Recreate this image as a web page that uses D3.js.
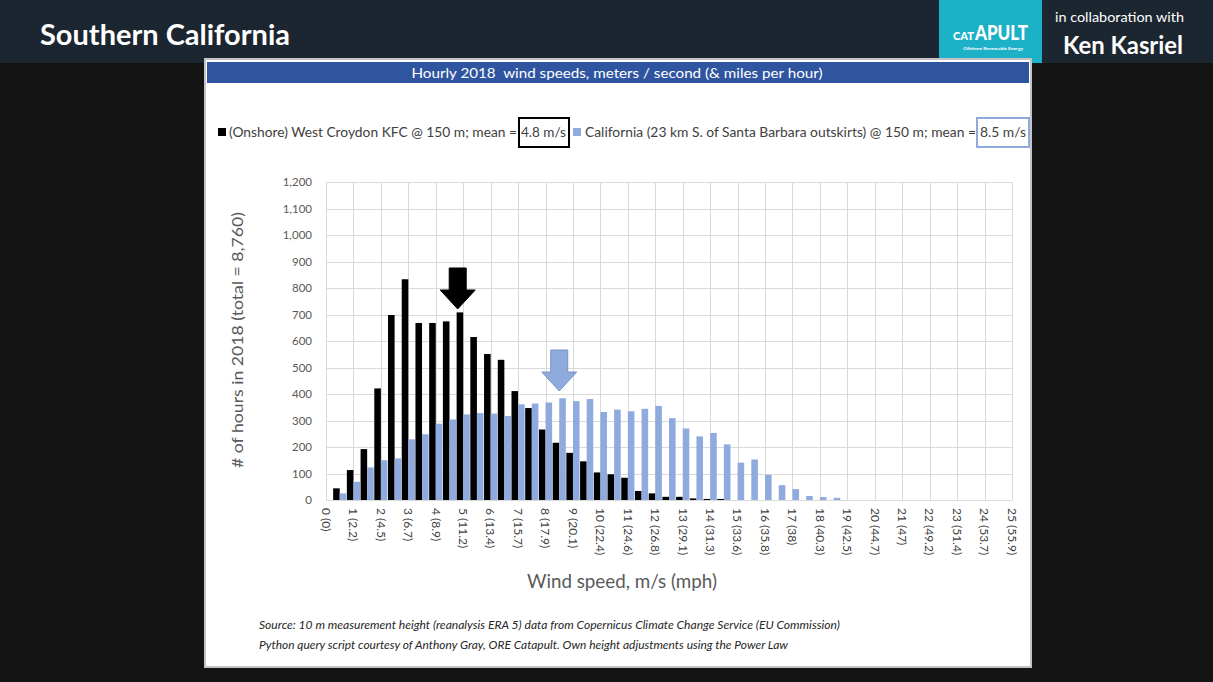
<!DOCTYPE html>
<html>
<head>
<meta charset="utf-8">
<script src="https://cdn.jsdelivr.net/npm/d3@7"></script>
<style>
  html, body { margin: 0; padding: 0; background: #141414; }
  svg { display: block; }
  text { font-family: Lato, "Open Sans", "DejaVu Sans", sans-serif; }
</style>
</head>
<body>
<svg id="chart" width="1213" height="682"></svg>
<script>
// Wind-speed bins (m/s), half-metre steps
const categories = [0, 0.5, 1, 1.5, 2, 2.5, 3, 3.5, 4, 4.5, 5, 5.5, 6, 6.5, 7, 7.5, 8, 8.5, 9, 9.5,
  10, 10.5, 11, 11.5, 12, 12.5, 13, 13.5, 14, 14.5, 15, 15.5, 16, 16.5, 17, 17.5, 18, 18.5, 19, 19.5,
  20, 20.5, 21, 21.5, 22, 22.5, 23, 23.5, 24, 24.5, 25];

// Hours per bin, onshore site (West Croydon)
const onshoreHours = [0, 44, 113, 192, 421, 698, 833, 668, 668, 674, 708, 615, 551, 529, 411, 347,
  266, 216, 178, 146, 104, 97, 84, 34, 25, 12, 12, 6, 4, 4,
  0, 0, 0, 0, 0, 0, 0, 0, 0, 0, 0, 0, 0, 0, 0, 0, 0, 0, 0, 0, 0];

// Hours per bin, California site
const californiaHours = [0, 25, 69, 123, 150, 157, 229, 248, 288, 304, 323, 328, 326, 317, 361, 364,
  368, 384, 373, 381, 332, 341, 335, 344, 355, 309, 270, 240, 253, 210, 141, 153, 95, 56, 41, 15, 11, 8,
  0, 0, 0, 0, 0, 0, 0, 0, 0, 0, 0, 0, 0];

const seriesNames = ["(Onshore) West Croydon KFC @ 150 m",
  "California (23 km S. of Santa Barbara outskirts) @ 150 m"];
const seriesMeans = [4.8, 8.5];
const seriesColors = ["#000000", "#8faadc"];

// Labelled ticks: whole m/s with mph equivalent
const xTickLabels = ["0 (0)", "1 (2.2)", "2 (4.5)", "3 (6.7)", "4 (8.9)", "5 (11.2)", "6 (13.4)",
  "7 (15.7)", "8 (17.9)", "9 (20.1)", "10 (22.4)", "11 (24.6)", "12 (26.8)", "13 (29.1)", "14 (31.3)",
  "15 (33.6)", "16 (35.8)", "17 (38)", "18 (40.3)", "19 (42.5)", "20 (44.7)", "21 (47)", "22 (49.2)",
  "23 (51.4)", "24 (53.7)", "25 (55.9)"];
const yTicks = [0, 100, 200, 300, 400, 500, 600, 700, 800, 900, 1000, 1100, 1200];

const svg = d3.select("#chart");
const W = 1213, H = 682;

// ---- slide background & header ----
svg.append("rect").attr("width", W).attr("height", H).attr("fill", "#141414");
svg.append("rect").attr("width", W).attr("height", 63).attr("fill", "#1c2630");

function fit(sel, w) {
  return sel.attr("textLength", w).attr("lengthAdjust", "spacingAndGlyphs");
}

fit(svg.append("text").attr("x", 40).attr("y", 45)
  .attr("fill", "#ffffff").attr("font-size", 28).attr("font-weight", 700)
  .text("Southern California"), 250);

// logo block
svg.append("rect").attr("x", 939).attr("y", 0).attr("width", 103).attr("height", 63).attr("fill", "#1cb1c6");
fit(svg.append("text").attr("x", 953).attr("y", 40).attr("fill", "#ffffff")
  .attr("font-size", 12).attr("font-weight", 900).text("CAT"), 21);
fit(svg.append("text").attr("x", 975).attr("y", 40).attr("fill", "#ffffff")
  .attr("font-size", 20).attr("font-weight", 900).text("APULT"), 53);
fit(svg.append("text").attr("x", 963).attr("y", 50).attr("fill", "#ffffff")
  .attr("font-size", 4.5).attr("font-weight", 700).text("Offshore Renewable Energy"), 60);

fit(svg.append("text").attr("x", 1055).attr("y", 22).attr("fill", "#ffffff")
  .attr("font-size", 14).text("in collaboration with"), 129);
fit(svg.append("text").attr("x", 1063).attr("y", 54).attr("fill", "#ffffff")
  .attr("font-size", 24).attr("font-weight", 700).text("Ken Kasriel"), 120);

// ---- chart panel ----
svg.append("rect").attr("x", 205).attr("y", 59).attr("width", 826).attr("height", 608)
  .attr("fill", "#ffffff").attr("stroke", "#c4c4c4").attr("stroke-width", 2);
svg.append("rect").attr("x", 207).attr("y", 62).attr("width", 822).attr("height", 21)
  .attr("fill", "#2f55a1");
fit(svg.append("text").attr("x", 617).attr("y", 78).attr("text-anchor", "middle")
  .attr("fill", "#ffffff").attr("font-size", 14).style("white-space", "pre")
  .text("Hourly 2018  wind speeds, meters / second (& miles per hour)"), 411);

// ---- legend ----
const legendLayout = [
  { sq: 218, tx: 229, tw: 288, bx: 519, bw: 50, vx: 521, vw: 45 },
  { sq: 573, tx: 585, tw: 391, bx: 977, bw: 52, vx: 980, vw: 46 }
];
const legendBase = 137;
seriesNames.forEach((name, i) => {
  const L = legendLayout[i];
  svg.append("rect").attr("x", L.sq).attr("y", legendBase - 9).attr("width", 8).attr("height", 8)
    .attr("fill", seriesColors[i]);
  fit(svg.append("text").attr("x", L.tx).attr("y", legendBase).attr("fill", "#404040")
    .attr("font-size", 13.5).style("white-space", "pre").text(name + "; mean ="), L.tw);
  svg.append("rect").attr("x", L.bx).attr("y", 118).attr("width", L.bw).attr("height", 29)
    .attr("fill", "none").attr("stroke", i === 0 ? "#000000" : "#8faadc").attr("stroke-width", 2);
  fit(svg.append("text").attr("x", L.vx).attr("y", legendBase).attr("fill", "#404040")
    .attr("font-size", 13.5).text(seriesMeans[i].toFixed(1) + " m/s"), L.vw);
});

// ---- plot area ----
const plotLeft = 326, plotRight = 1012, plotTop = 182, plotBottom = 500;
const step = (plotRight - plotLeft) / (categories.length - 1);

const x = d3.scaleBand().domain(categories)
  .range([plotLeft - step / 2, plotRight + step / 2])
  .paddingInner(0.04).paddingOuter(0.02);
const xSub = d3.scaleBand().domain([0, 1]).range([0, x.bandwidth()]).paddingInner(0.0);
const y = d3.scaleLinear().domain([0, 1200]).range([plotBottom, plotTop]);
const xc = v => x(v) + x.bandwidth() / 2;
const xVal = v => plotLeft + v / 25 * (plotRight - plotLeft);

const integerCats = categories.filter(c => Number.isInteger(c));

// gridlines
const grid = svg.append("g").attr("stroke", "#d9d9d9").attr("stroke-width", 1);
grid.selectAll("line.h").data(yTicks).join("line")
  .attr("x1", plotLeft).attr("x2", plotRight)
  .attr("y1", d => Math.round(y(d)) + 0.5).attr("y2", d => Math.round(y(d)) + 0.5);
grid.selectAll("line.v").data(integerCats).join("line")
  .attr("x1", d => Math.round(xc(d)) + 0.5).attr("x2", d => Math.round(xc(d)) + 0.5)
  .attr("y1", plotTop).attr("y2", plotBottom);

// y axis labels
const yAxis = svg.append("g").attr("transform", `translate(${plotLeft},0)`)
  .call(d3.axisLeft(y).tickValues(yTicks).tickSize(0).tickPadding(14).tickFormat(d3.format(",")));
yAxis.select(".domain").remove();
yAxis.selectAll("text").attr("font-size", 11.5).attr("fill", "#595959")
  .style("font-family", "Lato, 'Open Sans', sans-serif");

// bars
const seriesData = [onshoreHours, californiaHours];
const bars = svg.append("g");
seriesData.forEach((vals, s) => {
  bars.append("g").attr("fill", seriesColors[s])
    .selectAll("rect").data(categories.map((c, i) => ({ c, v: vals[i] })).filter(d => d.v > 0))
    .join("rect")
    .attr("x", d => x(d.c) + xSub(s))
    .attr("width", xSub.bandwidth())
    .attr("y", d => y(d.v))
    .attr("height", d => y(0) - y(d.v));
});

// x axis labels
const xAxis = svg.append("g").attr("transform", `translate(0,${plotBottom})`)
  .call(d3.axisBottom(x).tickValues(integerCats).tickSize(0)
    .tickFormat((d, i) => xTickLabels[i]));
xAxis.select(".domain").remove();
xAxis.selectAll("text")
  .attr("transform", "rotate(90)")
  .attr("x", 8).attr("y", 0).attr("dy", "0.35em")
  .attr("text-anchor", "start")
  .attr("font-size", 12).attr("fill", "#404040")
  .style("font-family", "Lato, 'Open Sans', sans-serif");

// mean arrows
function arrow(cx, top, color, stroke) {
  const sw = 8.5, hw = 17.5, shaft = 22, head = 19;
  const p = d3.path();
  p.moveTo(cx - sw, top); p.lineTo(cx + sw, top); p.lineTo(cx + sw, top + shaft);
  p.lineTo(cx + hw, top + shaft); p.lineTo(cx, top + shaft + head); p.lineTo(cx - hw, top + shaft);
  p.lineTo(cx - sw, top + shaft); p.closePath();
  svg.append("path").attr("d", p.toString()).attr("fill", color)
    .attr("stroke", stroke).attr("stroke-width", 1);
}
arrow(xVal(seriesMeans[0]), 268, "#000000", "#000000");
arrow(xVal(seriesMeans[1]), 350, "#8faadc", "#7893c8");

// axis titles
fit(svg.append("text").attr("transform", "translate(243,340) rotate(-90)")
  .attr("text-anchor", "middle").attr("fill", "#595959").attr("font-size", 15)
  .text("# of hours in 2018 (total = 8,760)"), 256);
fit(svg.append("text").attr("x", 622).attr("y", 588).attr("text-anchor", "middle")
  .attr("fill", "#595959").attr("font-size", 19)
  .text("Wind speed, m/s (mph)"), 190);

// source notes
fit(svg.append("text").attr("x", 259).attr("y", 629).attr("fill", "#262626")
  .attr("font-size", 11.5).attr("font-style", "italic")
  .text("Source: 10 m measurement height (reanalysis ERA 5) data from Copernicus Climate Change Service (EU Commission)"), 581);
fit(svg.append("text").attr("x", 259).attr("y", 649).attr("fill", "#262626")
  .attr("font-size", 11.5).attr("font-style", "italic")
  .text("Python query script courtesy of Anthony Gray, ORE Catapult. Own height adjustments using the Power Law"), 529);
</script>
</body>
</html>
